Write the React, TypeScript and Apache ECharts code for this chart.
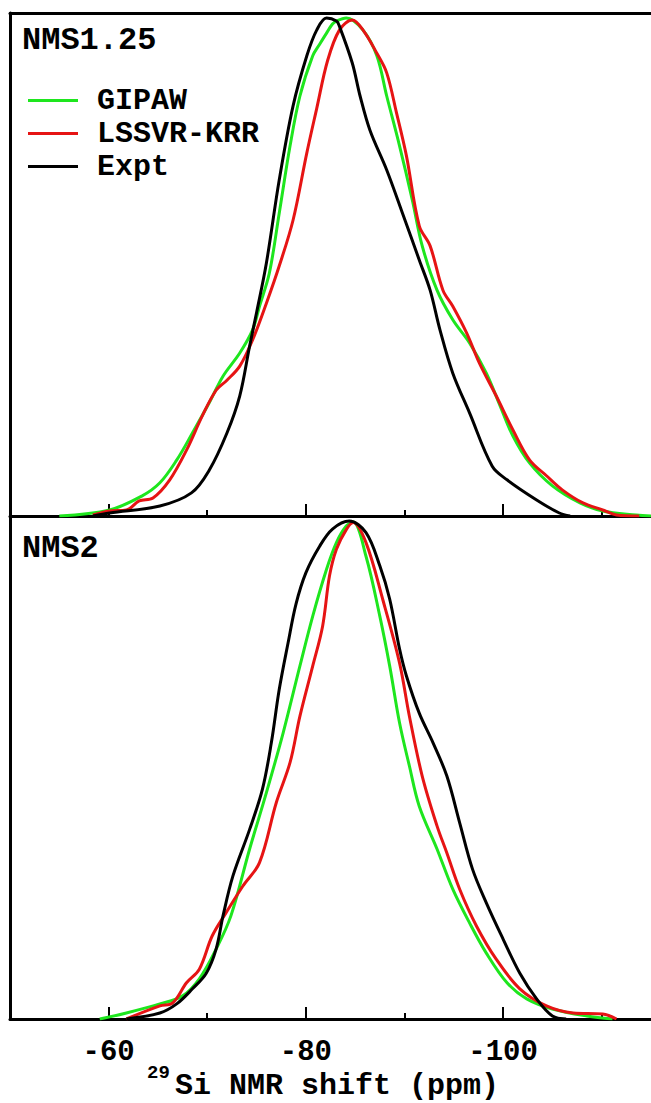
import React, { useEffect, useRef } from 'react';
import * as echarts from 'echarts';

const seriesNames = ['GIPAW', 'LSSVR-KRR', 'Expt'];
const panelLabels = ['NMS1.25', 'NMS2'];
const majorTicks = [-60, -80, -100];
const minorTicks = [-70, -90, -110];
const xMin = -115;
const xMax = -50;
const axisTitleSup = '29';
const axisTitle = 'Si NMR shift (ppm)';

// Panel 1: NMS1.25  [ppm, normalized intensity]
const nms125Gipaw: [number, number][] = [
  [-55.0, 0.0], [-60.1, 0.012], [-63.4, 0.04], [-65.2, 0.066], [-66.9, 0.111], [-68.5, 0.165],
  [-70.2, 0.225], [-71.6, 0.278], [-73.3, 0.324], [-74.6, 0.37], [-75.3, 0.417], [-76.3, 0.483],
  [-77.3, 0.602], [-78.4, 0.736], [-79.4, 0.835], [-80.7, 0.915], [-81.4, 0.938], [-82.1, 0.96],
  [-82.7, 0.978], [-83.1, 0.984], [-84.1, 0.99], [-85.8, 0.966], [-87.2, 0.915], [-88.2, 0.835],
  [-89.5, 0.736], [-90.8, 0.628], [-91.8, 0.537], [-93.3, 0.449], [-94.9, 0.39], [-96.6, 0.344],
  [-98.3, 0.284], [-99.7, 0.219], [-101.0, 0.159], [-102.7, 0.105], [-105.0, 0.06], [-107.8, 0.026],
  [-110.1, 0.01], [-113.5, 0.002], [-115.0, 0.0],
];
const nms125Lssvr: [number, number][] = [
  [-58.4, 0.002], [-60.1, 0.01], [-61.8, 0.012], [-63.1, 0.03], [-64.5, 0.036], [-66.2, 0.072],
  [-67.9, 0.131], [-69.5, 0.199], [-70.9, 0.25], [-72.0, 0.27], [-73.3, 0.298], [-74.6, 0.35],
  [-76.0, 0.423], [-77.3, 0.497], [-78.7, 0.588], [-80.1, 0.722], [-81.1, 0.81], [-82.2, 0.905],
  [-83.4, 0.966], [-84.7, 0.986], [-85.8, 0.966], [-87.2, 0.92], [-88.2, 0.881], [-89.2, 0.801],
  [-90.2, 0.716], [-91.5, 0.577], [-92.6, 0.537], [-93.9, 0.449], [-94.9, 0.417], [-96.3, 0.364],
  [-97.6, 0.304], [-99.3, 0.239], [-101.0, 0.171], [-102.7, 0.111], [-104.4, 0.08], [-106.0, 0.052],
  [-108.1, 0.026], [-110.1, 0.012], [-111.5, 0.002], [-113.8, 0.0],
];
const nms125Expt: [number, number][] = [
  [-58.4, 0.0], [-60.1, 0.006], [-65.2, 0.02], [-68.4, 0.046], [-70.2, 0.091], [-72.0, 0.165],
  [-73.3, 0.239], [-74.3, 0.338], [-75.0, 0.404], [-76.0, 0.503], [-77.3, 0.668], [-78.7, 0.815],
  [-80.1, 0.915], [-81.1, 0.966], [-82.1, 0.99], [-83.1, 0.984], [-83.4, 0.974], [-84.7, 0.901],
  [-85.5, 0.835], [-86.5, 0.767], [-88.2, 0.688], [-89.8, 0.602], [-91.5, 0.509], [-92.6, 0.449],
  [-93.6, 0.37], [-94.9, 0.284], [-96.6, 0.205], [-98.9, 0.099], [-100.4, 0.072], [-103.4, 0.032],
  [-105.7, 0.006], [-106.8, 0.0],
];

// Panel 2: NMS2
const nms2Gipaw: [number, number][] = [
  [-59.1, 0.0], [-61.8, 0.012], [-65.2, 0.03], [-67.5, 0.046], [-69.2, 0.08], [-70.9, 0.139],
  [-72.4, 0.205], [-74.3, 0.338], [-76.0, 0.45], [-77.7, 0.569], [-79.4, 0.702], [-80.7, 0.801],
  [-82.1, 0.894], [-83.1, 0.947], [-84.1, 0.98], [-84.8, 0.988], [-86.1, 0.92], [-87.5, 0.801],
  [-88.5, 0.702], [-89.5, 0.589], [-90.5, 0.503], [-91.5, 0.423], [-93.3, 0.338],
  [-94.9, 0.258], [-96.6, 0.191], [-98.3, 0.131], [-100.4, 0.072], [-102.4, 0.04], [-105.0, 0.02],
  [-108.5, 0.006], [-111.1, 0.0],
];
const nms2Lssvr: [number, number][] = [
  [-61.8, 0.0], [-65.2, 0.026], [-66.5, 0.032], [-67.9, 0.072], [-69.2, 0.099], [-70.5, 0.165],
  [-71.9, 0.211], [-73.6, 0.264], [-75.3, 0.311], [-77.0, 0.43], [-78.4, 0.51], [-79.4, 0.602],
  [-80.7, 0.702], [-81.7, 0.781], [-82.4, 0.881], [-83.1, 0.934], [-84.1, 0.973], [-84.8, 0.987],
  [-86.1, 0.947], [-87.8, 0.834], [-89.5, 0.708], [-90.5, 0.602], [-91.8, 0.483], [-93.3, 0.384],
  [-94.3, 0.33], [-95.6, 0.258], [-97.3, 0.185], [-99.3, 0.119], [-101.7, 0.06], [-104.4, 0.026],
  [-107.1, 0.012], [-110.1, 0.01], [-111.5, 0.0],
];
const nms2Expt: [number, number][] = [
  [-61.8, 0.0], [-65.2, 0.012], [-66.9, 0.03], [-68.5, 0.06], [-69.9, 0.091], [-70.9, 0.139],
  [-71.6, 0.205], [-72.6, 0.284], [-74.3, 0.377], [-75.6, 0.457], [-76.5, 0.549], [-77.3, 0.655],
  [-78.2, 0.748], [-79.0, 0.825], [-80.0, 0.887], [-81.4, 0.94], [-82.7, 0.974], [-84.4, 0.99],
  [-86.1, 0.967], [-87.5, 0.901], [-88.5, 0.835], [-89.5, 0.736], [-90.2, 0.682],
  [-91.5, 0.608], [-92.9, 0.549], [-94.3, 0.483], [-95.6, 0.39], [-96.9, 0.298], [-98.3, 0.231],
  [-100.0, 0.159], [-101.7, 0.091], [-103.4, 0.04], [-105.0, 0.006], [-106.4, 0.0],
];

const panels = [
  [nms125Gipaw, nms125Lssvr, nms125Expt],
  [nms2Gipaw, nms2Lssvr, nms2Expt],
];
const colors = ['#1ee61e', '#e61414', '#000000'];
const FONT = '"Liberation Mono", "DejaVu Sans Mono", monospace';

export default function App() {
  const ref = useRef<HTMLDivElement>(null);
  useEffect(() => {
    if (!ref.current) return;
    const chart = echarts.init(ref.current, undefined, { renderer: 'svg' });
    const grids = [
      { left: 10, top: 13, width: 641, height: 503 },
      { left: 10, top: 516, width: 641, height: 503 },
    ];
    const xAxes: any[] = [];
    const yAxes: any[] = [];
    grids.forEach((_, gi) => {
      xAxes.push({
        type: 'value', gridIndex: gi, position: 'bottom', min: xMin, max: xMax, inverse: true,
        axisLine: { show: true, onZero: false, lineStyle: { color: '#000', width: 3 } },
        axisTick: { show: true, inside: true, length: 12, customValues: majorTicks, lineStyle: { color: '#000', width: 2 } },
        axisLabel: {
          show: gi === 1, customValues: majorTicks, margin: 19, color: '#000',
          fontSize: 29, fontWeight: 'bold', fontFamily: FONT,
        },
        splitLine: { show: false },
      });
      xAxes.push({
        type: 'value', gridIndex: gi, position: 'bottom', min: xMin, max: xMax, inverse: true,
        axisLine: { show: false, onZero: false },
        axisTick: { show: true, inside: true, length: 6, customValues: minorTicks, lineStyle: { color: '#000', width: 2 } },
        axisLabel: { show: false },
        splitLine: { show: false },
      });
      yAxes.push({
        type: 'value', gridIndex: gi, min: 0, max: 1,
        axisLine: { show: true, onZero: false, lineStyle: { color: '#000', width: 3 } },
        axisTick: { show: false }, axisLabel: { show: false }, splitLine: { show: false },
      });
    });
    xAxes.push({
      type: 'value', gridIndex: 0, position: 'top', min: xMin, max: xMax, inverse: true,
      axisLine: { show: true, onZero: false, lineStyle: { color: '#000', width: 3 } },
      axisTick: { show: false }, axisLabel: { show: false }, splitLine: { show: false },
    });

    const series: any[] = [];
    panels.forEach((panel, pi) => {
      panel.forEach((data, si) => {
        series.push({
          type: 'line', name: seriesNames[si], xAxisIndex: pi * 2, yAxisIndex: pi,
          data, showSymbol: false, smooth: 0.35,
          lineStyle: { color: colors[si], width: 3 }, itemStyle: { color: colors[si] },
        });
      });
    });

    chart.setOption({
      animation: false,
      backgroundColor: '#fff',
      grid: grids,
      xAxis: xAxes,
      yAxis: yAxes,
      legend: {
        data: seriesNames, orient: 'vertical', left: 23, top: 79, itemWidth: 50, itemHeight: 3,
        icon: 'rect', itemGap: 0, selectedMode: false,
        textStyle: { fontSize: 30, fontWeight: 'bold', fontFamily: FONT, color: '#000', lineHeight: 33, padding: [0, 0, 0, 14] },
      },
      graphic: [
        { type: 'text', x: 22, y: 40, style: { text: panelLabels[0], fontSize: 32, fontWeight: 'bold', fontFamily: FONT, fill: '#000', verticalAlign: 'middle' } },
        { type: 'text', x: 22, y: 548, style: { text: panelLabels[1], fontSize: 32, fontWeight: 'bold', fontFamily: FONT, fill: '#000', verticalAlign: 'middle' } },
        { type: 'text', x: 147, y: 1073, style: { text: axisTitleSup, fontSize: 19, fontWeight: 'bold', fontFamily: FONT, fill: '#000', verticalAlign: 'middle' } },
        { type: 'text', x: 175, y: 1086, style: { text: axisTitle, fontSize: 30, fontWeight: 'bold', fontFamily: FONT, fill: '#000', verticalAlign: 'middle' } },
      ],
      series,
    });
    return () => chart.dispose();
  }, []);
  return <div ref={ref} style={{ position: 'absolute', left: 0, top: 0, width: 651, height: 1103 }} />;
}
